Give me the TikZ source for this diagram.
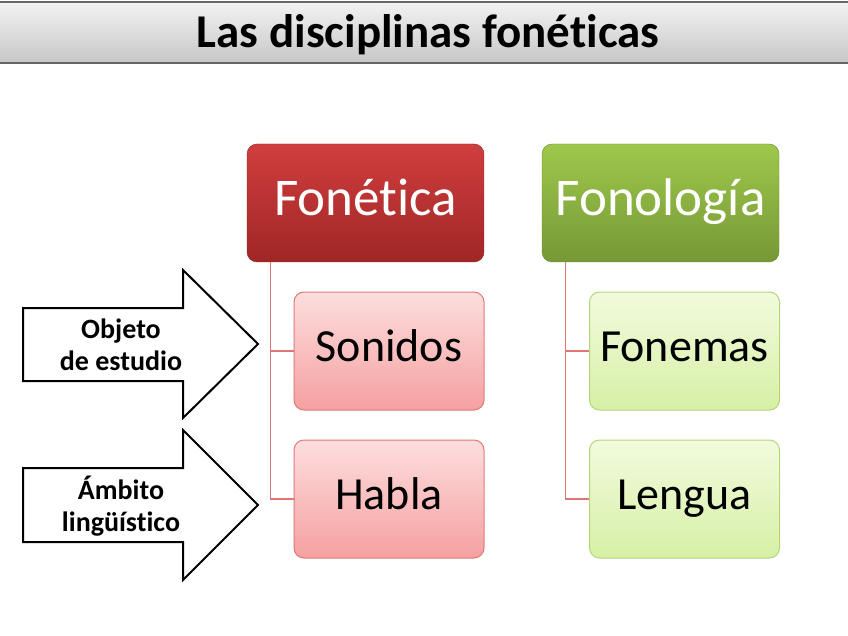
\documentclass[tikz,border=0pt]{standalone}
\usepackage{fontspec}
\setmainfont[Ligatures=NoCommon]{Carlito}
\usetikzlibrary{calc}
\definecolor{redtop}{RGB}{208,62,62}
\definecolor{redbot}{RGB}{160,38,38}
\definecolor{greentop}{RGB}{158,200,76}
\definecolor{greenbot}{RGB}{118,152,54}
\definecolor{pinktop}{RGB}{253,222,222}
\definecolor{pinkbot}{RGB}{245,160,160}
\definecolor{pinkline}{RGB}{225,120,120}
\definecolor{limetop}{RGB}{242,251,222}
\definecolor{limebot}{RGB}{214,240,165}
\definecolor{limeline}{RGB}{180,214,120}
\definecolor{conncol}{RGB}{222,118,118}
\tikzset{
  headbox/.style={rounded corners=10pt, minimum width=237pt, minimum height=118pt,
    text=white, font=\fontsize{53}{60}\selectfont, inner sep=0pt,
    text height=34pt, text depth=8pt},
  redhead/.style={headbox, top color=redtop, bottom color=redbot, draw=redbot!90!black, line width=0.4pt},
  greenhead/.style={headbox, top color=greentop, bottom color=greenbot, draw=greenbot!90!black, line width=0.4pt},
  subbox/.style={rounded corners=10pt, minimum width=190pt, minimum height=118pt,
    font=\fontsize{46}{52}\selectfont, inner sep=0pt, line width=1pt,
    text height=30pt, text depth=10pt},
  pinkbox/.style={subbox, top color=pinktop, bottom color=pinkbot, draw=pinkline},
  limebox/.style={subbox, top color=limetop, bottom color=limebot, draw=limeline},
  conn/.style={draw=conncol, line width=1.2pt},
  blockarrow/.style={draw=black, line width=2pt, fill=white, line join=miter},
  arrowtext/.style={font=\bfseries\fontsize{28}{32}\selectfont, align=center, inner sep=0pt}
}
\begin{document}
\begin{tikzpicture}[x=1pt,y=-1pt]
\useasboundingbox (0,0) rectangle (848,636);
% title bar
\shade[top color=white!95!black, bottom color=white!78!black] (0,2) rectangle (848,63);
\draw[draw=black!60, line width=2pt] (0,2) -- (848,2);
\draw[draw=black!60, line width=2.5pt] (0,63) -- (848,63);
\node[font=\bfseries\fontsize{47}{52}\selectfont, inner sep=0pt] (title) at (428,35) {Las disciplinas fonéticas};
% header boxes
\node[redhead] (fon) at (365.5,203) {Fonética};
\node[greenhead] (fonol) at (660.5,203) {Fonología};
% sub boxes
\node[pinkbox] (son) at (389,351) {Sonidos};
\node[pinkbox] (hab) at (389,499) {Habla};
\node[limebox] (fnm) at (684.5,351) {Fonemas};
\node[limebox] (len) at (684.5,499) {Lengua};
% connectors
\coordinate (fa) at ($(fon.south west)+(24,0)$);
\coordinate (ga) at ($(fonol.south west)+(24,0)$);
\draw[conn] (fa) |- (son.west);
\draw[conn] (fa) |- (hab.west);
\draw[conn] (ga) |- (fnm.west);
\draw[conn] (ga) |- (len.west);
% block arrows
\draw[blockarrow] (23,308) -- (183,308) -- (183,270) -- (258,344) -- (183,418) -- (183,381) -- (23,381) -- cycle;
\draw[blockarrow] (23,468) -- (183,468) -- (183,430) -- (258,505) -- (183,580) -- (183,542) -- (23,542) -- cycle;
\node[arrowtext] (obj) at (121,345) {Objeto\\de estudio};
\node[arrowtext] (amb) at (121,506) {Ámbito\\lingüístico};
\end{tikzpicture}
\end{document}
